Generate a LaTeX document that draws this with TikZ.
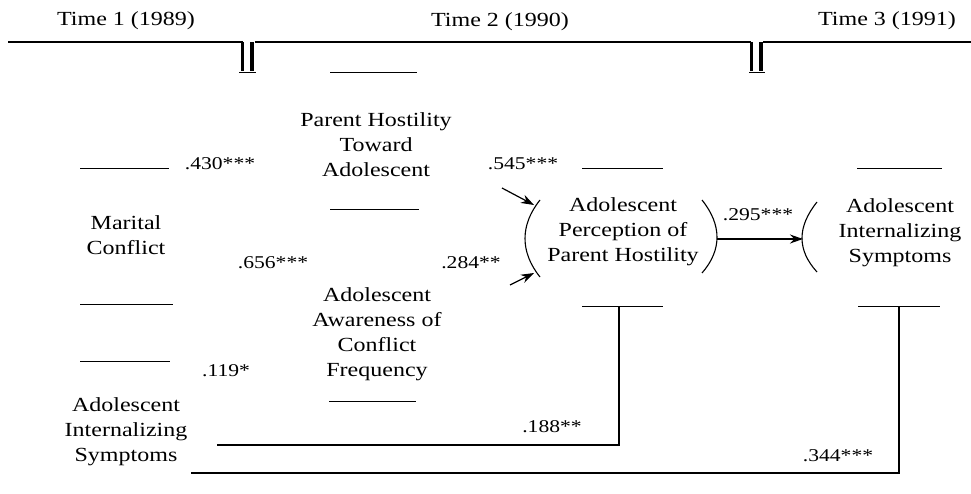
\documentclass[tikz,border=0pt]{standalone}
\usepackage{fontspec}
\setmainfont{Liberation Serif}[FakeStretch=1.2]
\usetikzlibrary{arrows.meta}
\begin{document}
\begin{tikzpicture}[x=1pt,y=-1pt,
  txt/.style={align=center,inner sep=0pt,font=\fontsize{20}{25}\selectfont},
  lab/.style={inner sep=0pt,font=\fontsize{18}{22}\selectfont},
  rule/.style={line width=1pt},
  conn/.style={line width=1.4pt},
  brk/.style={line width=3.2pt},
  arr/.style={line width=1.2pt,-{Stealth[length=13pt,width=9pt]}},
  paren/.style={line width=1.1pt}]
\useasboundingbox (0,0) rectangle (971,493);
% time headers
\node[txt] (t1) at (126,21) {Time 1 (1989)};
\node[txt] (t2) at (500,22) {Time 2 (1990)};
\node[txt] (t3) at (887,21) {Time 3 (1991)};
% timeline
\draw[line width=1.4pt] (8,42) -- (243,42);
\draw[line width=1.4pt] (255,42) -- (751,42);
\draw[line width=1.4pt] (763,42) -- (971,42);
\draw[brk] (242.5,42) -- (242.5,71);
\draw[brk] (252,42) -- (252,71);
\draw[rule] (239,72.5) -- (256,72.5);
\draw[brk] (751.5,42) -- (751.5,71);
\draw[brk] (761,42) -- (761,71);
\draw[rule] (749,72.5) -- (765,72.5);
% constructs
\node[txt] (mc) at (126,235) {Marital\\Conflict};
\node[txt] (ph) at (376,145) {Parent Hostility\\Toward\\Adolescent};
\node[txt] (aw) at (377,334.5) {Adolescent\\Awareness of\\Conflict\\Frequency};
\node[txt] (pp) at (623,232) {Adolescent\\Perception of\\Parent Hostility};
\node[txt] (is3) at (900,233) {Adolescent\\Internalizing\\Symptoms};
\node[txt] (is1) at (126,432) {Adolescent\\Internalizing\\Symptoms};
% rules above / below constructs
\draw[rule] (330,72) -- (417,72);
\draw[rule] (330,209) -- (419,209);
\draw[rule] (80,168) -- (169,168);
\draw[rule] (80,304) -- (173,304);
\draw[rule] (329,401) -- (416,401);
\draw[rule] (80,361) -- (170,361);
\draw[rule] (582,168) -- (663,168);
\draw[rule] (582,306) -- (663,306);
\draw[rule] (857,168) -- (942,168);
\draw[rule] (858,306) -- (940,306);
% coefficient labels
\node[lab] (l430) at (220,164) {.430***};
\node[lab] (l656) at (273,263) {.656***};
\node[lab] (l284) at (471,263) {.284**};
\node[lab] (l545) at (523,164) {.545***};
\node[lab] (l295) at (758,215) {.295***};
\node[lab] (l119) at (226,371) {.119*};
\node[lab] (l188) at (552,427) {.188**};
\node[lab] (l344) at (838,456) {.344***};
% parentheses
\draw[paren] (540,200) .. controls (520,225) and (520,252) .. (540,277);
\draw[paren] (702,200) .. controls (722,225) and (722,250) .. (702,273);
\draw[paren] (817,202) .. controls (797,227) and (797,250) .. (817,272);
% arrows
\coordinate (a1s) at (502,188);
\coordinate (a1e) at (534,205);
\coordinate (a2s) at (510,285);
\coordinate (a2e) at (534,273);
\coordinate (a3s) at (717,239);
\coordinate (a3e) at (803,239);
\draw[arr] (a1s) -- (a1e);
\draw[arr] (a2s) -- (a2e);
\draw[arr] (a3s) -- (a3e);
% stability paths
\coordinate (v1t) at (619,306);
\coordinate (v1b) at (619,445);
\coordinate (h1s) at (217,445);
\coordinate (v2t) at (899,306);
\coordinate (v2b) at (899,473);
\coordinate (h2s) at (191,473);
\draw[conn] (v1t) -- (v1b);
\draw[conn] (h1s) -- ([xshift=0.7pt]v1b);
\draw[conn] (v2t) -- (v2b);
\draw[conn] (h2s) -- ([xshift=0.7pt]v2b);
\end{tikzpicture}
\end{document}
